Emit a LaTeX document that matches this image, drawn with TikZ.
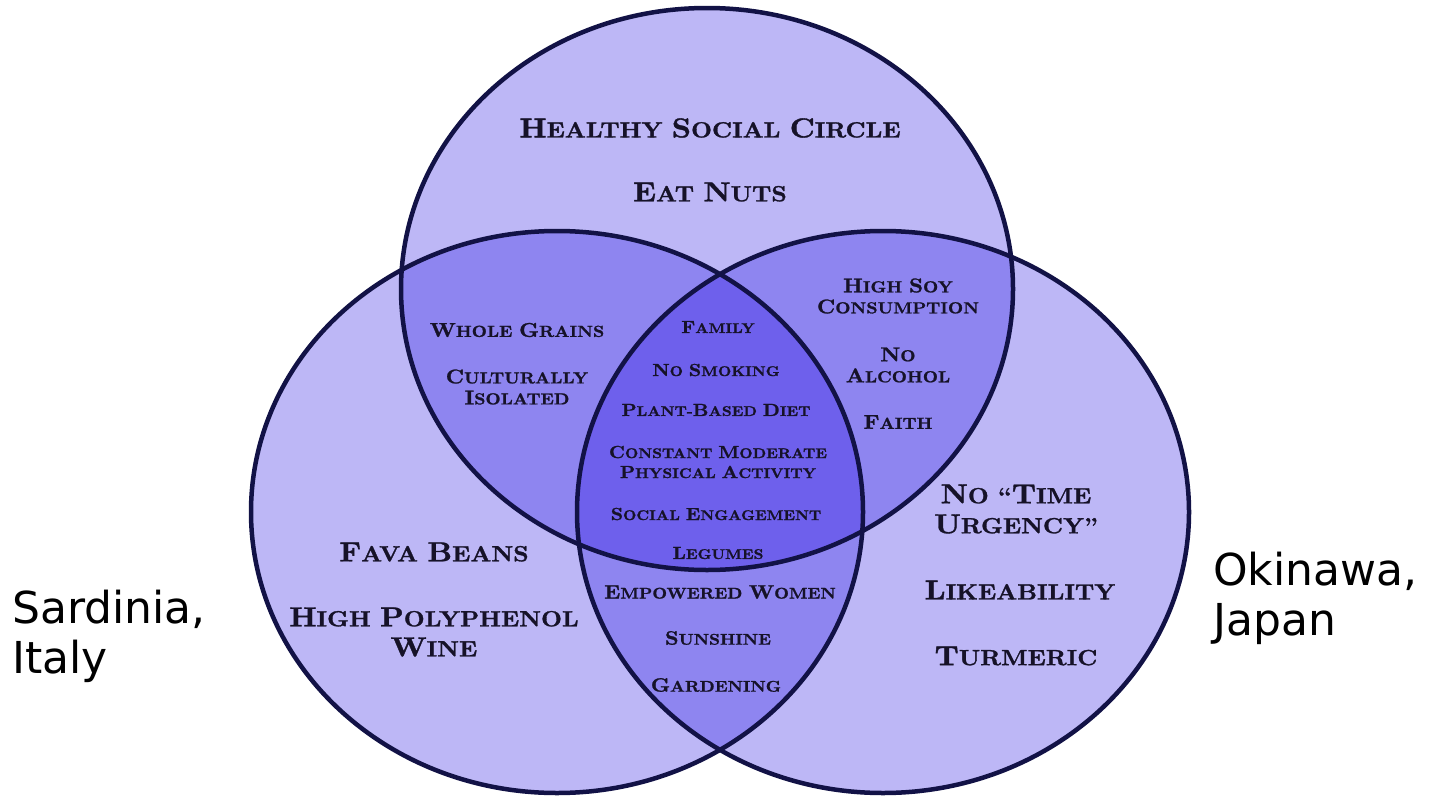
\documentclass[tikz,border=0pt]{standalone}
\usepackage{fontspec}
\usepackage{graphicx}
\newfontfamily\dejavu{DejaVu Sans}
\newfontfamily\vfont{lmroman10-bold}[Extension=.otf, FakeBold=1.2]
\definecolor{vsingle}{RGB}{189,183,246}
\definecolor{vdouble}{RGB}{142,133,240}
\definecolor{vtriple}{RGB}{110,96,236}
\definecolor{vedge}{RGB}{18,18,70}
\definecolor{vtxt}{RGB}{22,18,40}
\newcommand{\Ini}[1]{\scalebox{1.25}{#1}}
\newcommand{\Ln}[1]{\scalebox{1.1}[1]{#1}}
\tikzset{
  tbig/.style={font=\vfont\fontsize{22}{30}\selectfont, text=vtxt, align=center, inner sep=0pt},
  tmid/.style={font=\vfont\fontsize{16}{21}\selectfont, text=vtxt, align=center, inner sep=0pt},
  tsml/.style={font=\vfont\fontsize{14}{20}\selectfont, text=vtxt, align=center, inner sep=0pt},
  tlow/.style={font=\vfont\fontsize{15.5}{20}\selectfont, text=vtxt, align=center, inner sep=0pt},
  place/.style={font=\dejavu\fontsize{44}{50}\selectfont, text=black, align=left, inner sep=0pt},
  venn/.style={x radius=306pt, y radius=281pt},
}
\begin{document}
\begin{tikzpicture}[x=1pt,y=-1pt]
\useasboundingbox (0,0) rectangle (1432,795);
\fill[white] (0,0) rectangle (1432,795);
\clip (0,0) rectangle (1432,795);
\coordinate (T) at (707,289);
\coordinate (L) at (557,512);
\coordinate (R) at (883,512);
% single regions
\fill[vsingle] (T) ellipse [venn];
\fill[vsingle] (L) ellipse [venn];
\fill[vsingle] (R) ellipse [venn];
% pairwise overlaps
\begin{scope}
  \clip (T) ellipse [venn];
  \fill[vdouble] (L) ellipse [venn];
  \fill[vdouble] (R) ellipse [venn];
\end{scope}
\begin{scope}
  \clip (L) ellipse [venn];
  \fill[vdouble] (R) ellipse [venn];
\end{scope}
% triple overlap
\begin{scope}
  \clip (T) ellipse [venn];
  \clip (L) ellipse [venn];
  \fill[vtriple] (R) ellipse [venn];
\end{scope}
% outlines
\draw[vedge, line width=4.5pt] (T) ellipse [venn];
\draw[vedge, line width=4.5pt] (L) ellipse [venn];
\draw[vedge, line width=4.5pt] (R) ellipse [venn];

% top circle only
\node[tbig] (hsc) at (710,128) {\Ln{\Ini{H}EALTHY \Ini{S}OCIAL \Ini{C}IRCLE}};
\node[tbig] (nuts) at (710,192) {\Ln{\Ini{E}AT \Ini{N}UTS}};
% top-left overlap
\node[tmid] (grains) at (517,330) {\Ln{\Ini{W}HOLE \Ini{G}RAINS}};
\node[tmid] (iso) at (517,387) {\Ln{\Ini{C}ULTURALLY}\\\Ln{\Ini{I}SOLATED}};
% centre
\node[tsml] (fam) at (718,327) {\Ln{\Ini{F}AMILY}};
\node[tsml] (smok) at (716,370) {\Ln{\Ini{N}O \Ini{S}MOKING}};
\node[tsml] (diet) at (716,410) {\Ln{\Ini{P}LANT-\Ini{B}ASED \Ini{D}IET}};
\node[tsml] (act) at (718,462) {\Ln{\Ini{C}ONSTANT \Ini{M}ODERATE}\\\Ln{\Ini{P}HYSICAL \Ini{A}CTIVITY}};
\node[tsml] (soc) at (716,514) {\Ln{\Ini{S}OCIAL \Ini{E}NGAGEMENT}};
\node[tsml] (leg) at (718,553) {\Ln{\Ini{L}EGUMES}};
% bottom lens
\node[tlow] (women) at (720,592) {\Ln{\Ini{E}MPOWERED \Ini{W}OMEN}};
\node[tlow] (sun) at (718,638) {\Ln{\Ini{S}UNSHINE}};
\node[tlow] (garden) at (716,685) {\Ln{\Ini{G}ARDENING}};
% top-right overlap
\node[tmid] (soy) at (898,296) {\Ln{\Ini{H}IGH \Ini{S}OY}\\\Ln{\Ini{C}ONSUMPTION}};
\node[tmid] (alc) at (898,365) {\Ln{\Ini{N}O}\\\Ln{\Ini{A}LCOHOL}};
\node[tmid] (faith) at (898,422) {\Ln{\Ini{F}AITH}};
% right circle only
\node[tbig] (time) at (1016,509) {\Ln{\Ini{N}O “\Ini{T}IME}\\\Ln{\Ini{U}RGENCY”}};
\node[tbig] (like) at (1020,590) {\Ln{\Ini{L}IKEABILITY}};
\node[tbig] (turm) at (1016,656) {\Ln{\Ini{T}URMERIC}};
% left circle only
\node[tbig] (fava) at (434,552) {\Ln{\Ini{F}AVA \Ini{B}EANS}};
\node[tbig] (wine) at (434,632) {\Ln{\Ini{H}IGH \Ini{P}OLYPHENOL}\\\Ln{\Ini{W}INE}};
% place labels
\node[place, anchor=west] (sard) at (12,636) {Sardinia,\\Italy};
\node[place, anchor=west] (oki) at (1213,598) {Okinawa,\\Japan};
\end{tikzpicture}
\end{document}
